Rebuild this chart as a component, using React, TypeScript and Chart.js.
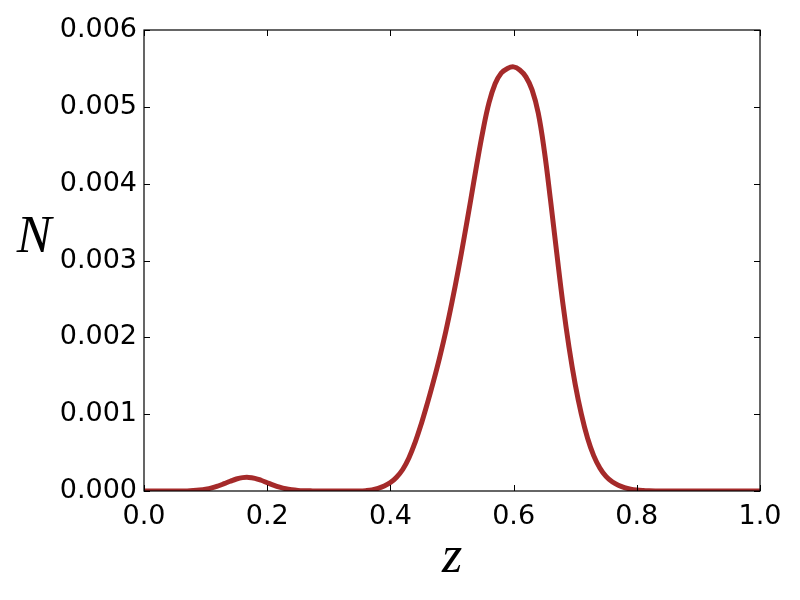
import React, { useEffect, useRef } from "react";
import { Chart, registerables } from "chart.js";

Chart.register(...registerables);

const zValues: number[] = [
  0.0, 0.01, 0.02, 0.03, 0.04, 0.05, 0.06, 0.07, 0.08, 0.09,
  0.1, 0.11, 0.12, 0.13, 0.14, 0.15, 0.16, 0.17, 0.18, 0.19,
  0.2, 0.21, 0.22, 0.23, 0.24, 0.25, 0.26, 0.27, 0.28, 0.29,
  0.3, 0.31, 0.32, 0.33, 0.34, 0.35, 0.36, 0.37, 0.38, 0.39,
  0.4, 0.41, 0.42, 0.43, 0.44, 0.45, 0.46, 0.47, 0.48, 0.49,
  0.5, 0.51, 0.52, 0.53, 0.54, 0.55, 0.56, 0.57, 0.58, 0.59,
  0.6, 0.61, 0.62, 0.63, 0.64, 0.65, 0.66, 0.67, 0.68, 0.69,
  0.7, 0.71, 0.72, 0.73, 0.74, 0.75, 0.76, 0.77, 0.78, 0.79,
  0.8, 0.81, 0.82, 0.83, 0.84, 0.85, 0.86, 0.87, 0.88, 0.89,
  0.9, 0.91, 0.92, 0.93, 0.94, 0.95, 0.96, 0.97, 0.98, 0.99, 1.0,
];

const nValues: number[] = [
  0, 0, 0, 0, 0, 0, 0, 0.000001, 0.000005, 0.000012,
  0.000023, 0.00004, 0.000065, 0.000095, 0.000127, 0.000156, 0.000174, 0.000177, 0.000165, 0.00014,
  0.000108, 0.000077, 0.00005, 0.000029, 0.000016, 0.000008, 0.000004, 0.000002, 0, 0,
  0, 0, 0, 0, 0, 0, 0.000005, 0.000015, 0.000035, 0.000065,
  0.00011, 0.00018, 0.00028, 0.00043, 0.00063, 0.00087, 0.00114, 0.00143, 0.00174, 0.00208,
  0.00246, 0.00287, 0.00331, 0.00377, 0.00424, 0.00468, 0.00505, 0.0053, 0.00544, 0.0055,
  0.00552, 0.00548, 0.00539, 0.00522, 0.00492, 0.00442, 0.00378, 0.0031, 0.00244, 0.00187,
  0.00139, 0.001, 0.00069, 0.00046, 0.0003, 0.00019, 0.00012, 0.000075, 0.000045, 0.000025,
  0.000013, 0.000006, 0.000002, 0, 0, 0, 0, 0, 0, 0,
  0, 0, 0, 0, 0, 0, 0, 0, 0, 0, 0,
];

const xTickValues: number[] = [0, 0.2, 0.4, 0.6, 0.8, 1.0];
const yTickValues: number[] = [0, 0.001, 0.002, 0.003, 0.004, 0.005, 0.006];
const xLabel = "z";
const yLabel = "N";

const framePlugin = {
  id: "frameAndLabels",
  afterDatasetsDraw(chart: any) {
    const { ctx, chartArea, scales } = chart;
    const { left, right, top, bottom } = chartArea;
    ctx.save();
    ctx.strokeStyle = "#000";
    ctx.lineWidth = 1;
    const tl = 6;
    ctx.beginPath();
    for (const v of xTickValues) {
      const x = Math.round(scales.x.getPixelForValue(v)) + 0.5;
      ctx.moveTo(x, bottom);
      ctx.lineTo(x, bottom - tl);
      ctx.moveTo(x, top);
      ctx.lineTo(x, top + tl);
    }
    for (const v of yTickValues) {
      const y = Math.round(scales.y.getPixelForValue(v)) + 0.5;
      ctx.moveTo(left, y);
      ctx.lineTo(left + tl, y);
      ctx.moveTo(right, y);
      ctx.lineTo(right - tl, y);
    }
    ctx.stroke();
    ctx.lineWidth = 1.2;
    ctx.strokeRect(left, top, right - left, bottom - top);

    ctx.fillStyle = "#000";
    ctx.font = "italic 52px 'Liberation Serif'";
    ctx.textAlign = "center";
    ctx.textBaseline = "alphabetic";
    ctx.fillText(xLabel, (left + right) / 2, 572);
    ctx.fillText(yLabel, 34, 252);
    ctx.restore();
  },
};

export default function App() {
  const canvasRef = useRef<HTMLCanvasElement | null>(null);

  useEffect(() => {
    if (!canvasRef.current) return;
    const data = zValues.map((z, i) => ({ x: z, y: nValues[i] }));
    const chart = new Chart(canvasRef.current, {
      type: "line",
      data: {
        datasets: [
          {
            data,
            borderColor: "#a52a2a",
            borderWidth: 5,
            pointRadius: 0,
            fill: false,
            tension: 0.4,
            clip: 0,
          } as any,
        ],
      },
      options: {
        animation: false,
        responsive: false,
        maintainAspectRatio: false,
        layout: { padding: { left: 0, right: 40, top: 30, bottom: 0 } },
        plugins: {
          legend: { display: false },
          tooltip: { enabled: false },
        },
        scales: {
          x: {
            type: "linear",
            min: 0,
            max: 1,
            grid: { display: false, drawTicks: false },
            border: { display: false },
            afterFit: (s: any) => {
              s.height = 109;
            },
            afterBuildTicks: (s: any) => {
              s.ticks = xTickValues.map((v) => ({ value: v }));
            },
            ticks: {
              padding: 10,
              color: "#000",
              font: { family: "'DejaVu Sans'", size: 27 },
              maxRotation: 0,
              autoSkip: false,
              callback: (v: any) => Number(v).toFixed(1),
            },
          },
          y: {
            type: "linear",
            min: 0,
            max: 0.006,
            grid: { display: false, drawTicks: false },
            border: { display: false },
            afterFit: (s: any) => {
              s.width = 144;
            },
            afterBuildTicks: (s: any) => {
              s.ticks = yTickValues.map((v) => ({ value: v }));
            },
            ticks: {
              padding: 7,
              color: "#000",
              font: { family: "'DejaVu Sans'", size: 27 },
              autoSkip: false,
              callback: (v: any) => Number(v).toFixed(3),
            },
          },
        },
      },
      plugins: [framePlugin],
    });
    return () => chart.destroy();
  }, []);

  return (
    <div style={{ position: "absolute", left: 0, top: 0, width: 800, height: 600, background: "#fff" }}>
      <canvas ref={canvasRef} width={800} height={600} style={{ width: 800, height: 600 }} />
    </div>
  );
}
